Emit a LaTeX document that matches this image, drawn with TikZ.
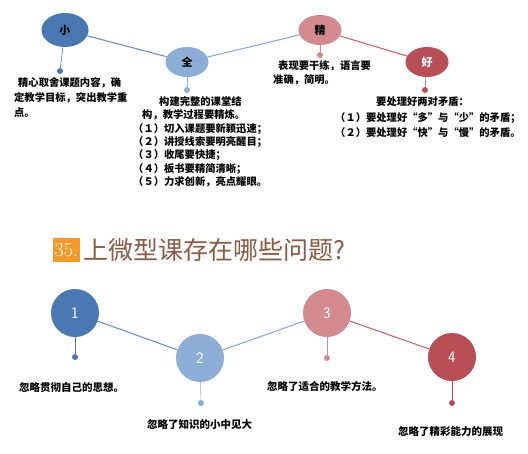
\documentclass[tikz,border=0pt]{standalone}
\usepackage{fontspec}
\newfontfamily\cjk{Noto Sans CJK SC}
\newfontfamily\cjkfw[RawFeature=+fwid]{Noto Sans CJK SC}
\usetikzlibrary{shapes.geometric,positioning}

\definecolor{darkblue}{HTML}{4A78B2}
\definecolor{lightblue}{HTML}{8CADD6}
\definecolor{pinkred}{HTML}{D38A8F}
\definecolor{darkred}{HTML}{B84E56}
\definecolor{titleorange}{HTML}{F39A2C}
\definecolor{titlebrown}{HTML}{8A5A44}

\tikzset{
  blob/.style={ellipse, minimum width=43pt, minimum height=30pt, inner sep=0pt,
    font=\cjk\bfseries\fontsize{11}{11}\selectfont},
  ball/.style={circle, minimum size=48pt, inner sep=0pt, text=white,
    font=\sffamily\fontsize{16}{16}\selectfont},
  pin/.style={circle, minimum size=6pt, inner sep=0pt},
  stem/.style={line width=0.6pt},
  link/.style={line width=1.1pt},
  note/.style={font=\cjkfw\bfseries\fontsize{10.3}{#1}\selectfont, inner sep=0pt, align=left},
  note/.default=14
}

\begin{document}
\begin{tikzpicture}[x=1pt, y=-1pt]
    \useasboundingbox (0,0) rectangle (528,453);
    \fill[white] (0,0) rectangle (528,453);

    % Top row of ellipses
    \node[blob, fill=darkblue, minimum width=47pt, minimum height=34pt] (xiao) at (65,30) {小};
    \node[blob, fill=lightblue] (quan) at (187,62) {全};
    \node[blob, fill=pinkred] (jing) at (320,30) {精};
    \node[blob, fill=darkred, text=white] (hao) at (427,62) {好};

    \draw[link, darkblue!80] (xiao) -- (quan);
    \draw[link, lightblue] (quan) -- (jing);
    \draw[link, darkred!85] (jing) -- (hao);

    % Pins under the ellipses
    \node[pin, fill=darkblue] (xiaopin) at (60,71) {};
    \node[pin, fill=lightblue] (quanpin) at (187,90) {};
    \node[pin, fill=pinkred] (jingpin) at (320,55) {};
    \node[pin, fill=darkred] (haopin) at (425,90) {};
    \draw[stem, darkblue] (xiao) -- (xiaopin);
    \draw[stem, lightblue] (quan) -- (quanpin);
    \draw[stem, pinkred] (jing) -- (jingpin);
    \draw[stem, darkred] (hao) -- (haopin);

    % Notes of the top row
    \node[note=15, anchor=north west] (xiaonote) at (14,77.5)
      {\hspace*{4pt}精心取舍课题内容，确\\定教学目标，突出教学重\\点。};
    \node[note=13.3, anchor=north west] (quannote) at (133,96.5)
      {\hspace*{26pt}构建完整的课堂结\\
       \hspace*{9pt}构，教学过程要精炼。\\
       （１）切入课题要新颖迅速；\\
       （２）讲授线索要明亮醒目；\\
       （３）收尾要快捷；\\
       （４）板书要精简清晰；\\
       （５）力求创新，亮点耀眼。};
    \node[note=14, anchor=north west] (jingnote) at (273,60.5)
      {\hspace*{5pt}表现要干练，语言要\\准确，简明。};
    \node[note=15.5, anchor=north west] (haonote) at (335,96.5)
      {\hspace*{41pt}要处理好两对矛盾：\\
       （１）要处理好“多”与“少”的矛盾；\\
       （２）要处理好“快”与“慢”的矛盾。};

    % Question title
    \node[fill=titleorange, text=white, font=\fontsize{20}{20}\selectfont,
      inner sep=1.5pt, minimum height=24pt, anchor=west] (num) at (53,250) {35.};
    \node[right=4pt of num, text=titlebrown, font=\cjk\fontsize{25}{25}\selectfont,
      inner sep=0pt] (title) {上微型课存在哪些问题?};

    % Bottom row of circles
    \node[ball, fill=darkblue] (one) at (75,313) {1};
    \node[ball, fill=lightblue] (two) at (200,358) {2};
    \node[ball, fill=pinkred] (three) at (327,313) {3};
    \node[ball, fill=darkred] (four) at (452,357) {4};

    \draw[link, darkblue!80] (one) -- (two);
    \draw[link, lightblue] (two) -- (three);
    \draw[link, darkred!85] (three) -- (four);

    \node[pin, fill=darkblue] (onepin) at (75,357) {};
    \node[pin, fill=lightblue] (twopin) at (201,403) {};
    \node[pin, fill=pinkred] (threepin) at (327,358) {};
    \node[pin, fill=darkred] (fourpin) at (452,403) {};
    \draw[stem, darkblue] (one) -- (onepin);
    \draw[stem, lightblue] (two) -- (twopin);
    \draw[stem, pinkred] (three) -- (threepin);
    \draw[stem, darkred] (four) -- (fourpin);

    \node[note, anchor=west, font=\cjk\bfseries\fontsize{10.5}{12}\selectfont] (onenote) at (19,388) {忽略贯彻自己的思想。};
    \node[note, anchor=west, font=\cjk\bfseries\fontsize{10.5}{12}\selectfont] (twonote) at (147,425) {忽略了知识的小中见大};
    \node[note, anchor=west, font=\cjk\bfseries\fontsize{10.5}{12}\selectfont] (threenote) at (267,386) {忽略了适合的教学方法。};
    \node[note, anchor=west, font=\cjk\bfseries\fontsize{10.5}{12}\selectfont] (fournote) at (398,432) {忽略了精彩能力的展现};
\end{tikzpicture}
\end{document}
